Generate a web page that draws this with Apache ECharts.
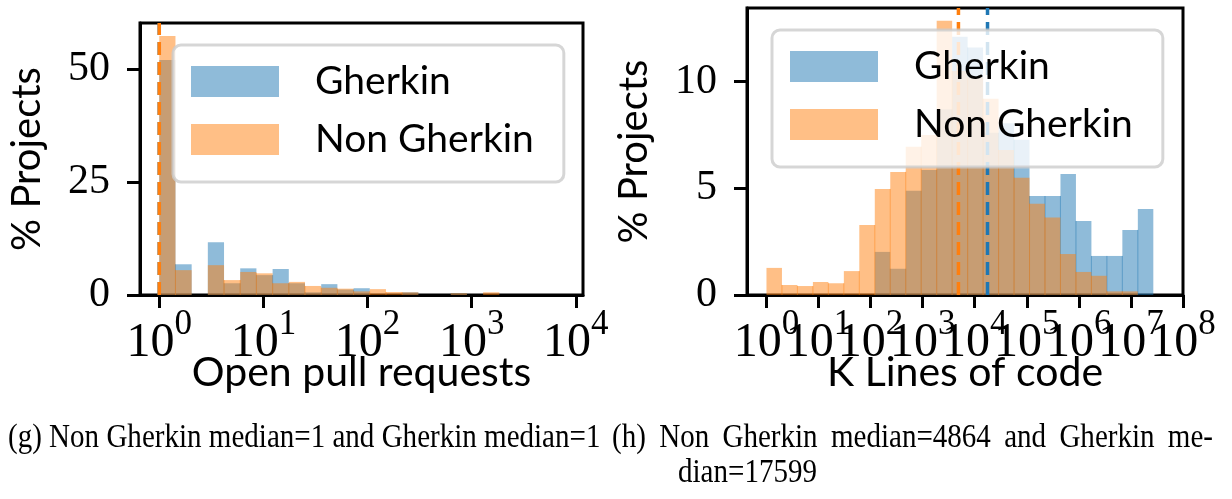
<!DOCTYPE html>
<html>
<head>
<meta charset="utf-8">
<title>Open pull requests / K Lines of code</title>
<script src="https://cdn.jsdelivr.net/npm/echarts@6.0.0/dist/echarts.min.js"></script>
<style>
  html, body { margin: 0; padding: 0; background: #ffffff; }
  #chart { width: 1232px; height: 499px; }
</style>
</head>
<body>
<div id="chart"></div>
<script>
// ---- data -------------------------------------------------------------
const seriesNames = ['Gherkin', 'Non Gherkin'];

// (g) Open pull requests: % of projects per log-spaced bin
const prBinRange = [1, 1842];
const prBinCount = 21;
const prGherkin    = [52.0, 6.8, 0, 11.7, 2.6, 5.9, 4.4, 5.75, 2.6, 0.6, 2.4, 1.2, 1.5, 0, 0, 0.6, 0, 0, 0.4, 0, 0];
const prNonGherkin = [57.3, 5.5, 0, 6.6, 3.3, 5.1, 4.8, 2.6, 2.9, 2.0, 1.6, 1.4, 0.8, 1.3, 0.66, 0.6, 0, 0, 0.4, 0, 0.6];
const prMedian = { gherkin: 1, nonGherkin: 1 };
const prXTicks = [0, 1, 2, 3, 4];          // decades
const prYTicks = [0, 25, 50];
const prXTitle = 'Open pull requests';

// (h) K Lines of code: % of projects per log-spaced bin
const locBinRange = [1, 26900000];
const locBinCount = 25;
const locGherkin    = [0, 0, 0, 0, 0, 0, 0, 2.02, 1.23, 4.88, 5.86, 8.7, 12.1, 11.6, 7.6, 8.05, 7.27, 4.64, 4.64, 5.67, 3.47, 1.83, 1.83, 3.05, 4.03];
const locNonGherkin = [1.27, 0.47, 0.42, 0.61, 0.55, 1.12, 3.28, 4.97, 5.77, 6.95, 7.5, 12.85, 10.5, 10.2, 9.2, 6.8, 5.5, 4.28, 3.63, 1.92, 1.08, 0.9, 0.17, 0.17, 0];
const locMedian = { gherkin: 17599, nonGherkin: 4864 };
const locXTicks = [0, 1, 2, 3, 4, 5, 6, 7, 8];
const locYTicks = [0, 5, 10];
const locXTitle = 'K Lines of code';

const yTitle = '% Projects';

// ---- helpers -----------------------------------------------------------
const LOG = Math.log10;
const BLUE = '#1f77b4', ORANGE = '#ff7f0e';
const BLUE_A = 'rgba(31,119,180,0.5)', ORANGE_A = 'rgba(255,127,14,0.5)';
const SERIF = '"Liberation Serif", "DejaVu Serif", serif';
const SANS = 'Lato, "Open Sans", "DejaVu Sans", sans-serif';

// log-spaced bin edges, like numpy.logspace
function logBins(range, count) {
  const a = LOG(range[0]), b = LOG(range[1]);
  const edges = [];
  for (let i = 0; i <= count; i++) edges.push(Math.pow(10, a + (b - a) * i / count));
  return edges;
}
function histData(range, count, heights) {
  const edges = logBins(range, count);
  return heights.map((h, i) => [edges[i], edges[i + 1], h, i > 0 ? heights[i - 1] : 0]);
}

function renderBin(params, api) {
  const h = api.value(2);
  if (!h) return null;
  const x0 = LOG(api.value(0)), x1 = LOG(api.value(1));
  const p0 = api.coord([x0, 0]);
  const p1 = api.coord([x1, h]);
  const color = api.visual('color');
  const children = [{
    type: 'rect',
    shape: { x: p0[0], y: p1[1], width: p1[0] - p0[0], height: p0[1] - p1[1] },
    style: { fill: color }
  }];
  // seam between neighbouring bins of the same series
  const prev = api.value(3);
  if (prev > 0) {
    const ps = api.coord([x0, Math.min(prev, h)]);
    children.push({
      type: 'line',
      shape: { x1: p0[0], y1: p0[1], x2: p0[0], y2: ps[1] },
      style: { stroke: color, lineWidth: 1 }
    });
  }
  return { type: 'group', children };
}

function renderMedian(params, api) {
  const cs = params.coordSys;
  const x = api.coord([api.value(0), 0])[0];
  return {
    type: 'line',
    shape: { x1: x, y1: cs.y + cs.height, x2: x, y2: cs.y },
    style: { stroke: api.visual('color'), lineWidth: 3.5, lineDash: [13, 7] }
  };
}

// "10^n" tick labels under the decade ticks
const tickRich = {
  b: { fontFamily: SERIF, fontSize: 48, lineHeight: 60, verticalAlign: 'bottom', fill: '#000' },
  s: { fontFamily: SERIF, fontSize: 35, lineHeight: 34, verticalAlign: 'top', fill: '#000' }
};
function renderDecadeLabel(params, api) {
  const v = api.value(0);
  const p = api.coord([v, 0]);
  return {
    type: 'text', x: p[0], y: p[1] + 12,
    style: { text: '{b|10}{s|' + v + '}', rich: tickRich, align: 'center', verticalAlign: 'top', fill: '#000' }
  };
}

function histSeries(name, idx, range, count, heights, color) {
  return {
    type: 'custom', name, xAxisIndex: idx, yAxisIndex: idx,
    renderItem: renderBin, encode: { x: [0, 1], y: 2 },
    itemStyle: { color }, z: 2,
    data: histData(range, count, heights)
  };
}
function medianSeries(name, idx, value, color) {
  return {
    type: 'custom', name, xAxisIndex: idx, yAxisIndex: idx,
    renderItem: renderMedian, encode: { x: 0 },
    itemStyle: { color }, z: 3, silent: true,
    data: [[LOG(value)]]
  };
}
function decadeLabelSeries(idx, ticks) {
  return {
    type: 'custom', name: 'decades', xAxisIndex: idx, yAxisIndex: idx,
    renderItem: renderDecadeLabel, encode: { x: 0 },
    z: 5, silent: true, clip: false,
    data: ticks.map(t => [t])
  };
}

function xAxis(idx, min, max, ticks) {
  return {
    type: 'value', gridIndex: idx, min, max,
    axisLine: { show: true, onZero: false, lineStyle: { color: '#000', width: 3 } },
    axisTick: { show: true, length: 13, lineStyle: { color: '#000', width: 3 }, customValues: ticks },
    axisLabel: { show: false },
    splitLine: { show: false }
  };
}
function yAxis(idx, max, ticks) {
  return {
    type: 'value', gridIndex: idx, min: 0, max,
    name: yTitle, nameLocation: 'middle', nameGap: 93, nameMoveOverlap: false,
    nameTextStyle: { fontFamily: SANS, fontSize: 40, color: '#000' },
    axisLine: { show: true, onZero: false, lineStyle: { color: '#000', width: 3 } },
    axisTick: { show: true, length: 13, lineStyle: { color: '#000', width: 3 }, customValues: ticks },
    axisLabel: { customValues: ticks, margin: 30, color: '#000', fontFamily: SERIF, fontSize: 42,
                 showMinLabel: true, showMaxLabel: true },
    splitLine: { show: false }
  };
}
function legend(left, top) {
  return {
    data: seriesNames, orient: 'vertical', left, top,
    icon: 'rect', itemWidth: 88, itemHeight: 31, itemGap: 19,
    padding: [17, 30, 23, 18],
    backgroundColor: 'rgba(255,255,255,0.8)',
    borderColor: 'rgba(204,204,204,0.8)', borderWidth: 3, borderRadius: 8,
    textStyle: { fontFamily: SANS, fontSize: 39, lineHeight: 31, color: '#000', padding: [0, 0, 0, 31] },
    selectedMode: false
  };
}
// x-axis titles, centred under each plot
function xTitle(text, cx) {
  return { type: 'text', x: cx, y: 373,
           style: { text, font: '41px ' + SANS, fill: '#000', align: 'center', verticalAlign: 'middle' } };
}

// ---- captions ------------------------------------------------------------
const capSize = 33, capSqueeze = 0.88;
const capFont = capSize + 'px "Liberation Serif"';
const measureCtx = document.createElement('canvas').getContext('2d');
measureCtx.font = capFont;
function capText(text, x, y) {
  return { type: 'text', x, y, scaleX: capSqueeze,
           style: { text, font: capFont, fill: '#000', verticalAlign: 'top' } };
}
function justifiedLine(words, x0, x1, y) {
  const widths = words.map(w => measureCtx.measureText(w).width * capSqueeze);
  const total = widths.reduce((a, b) => a + b, 0);
  const gap = (x1 - x0 - total) / (words.length - 1);
  let x = x0;
  return words.map((w, i) => {
    const el = capText(w, x, y);
    x += widths[i] + gap;
    return el;
  });
}
const capG = `(g) Non Gherkin median=${prMedian.nonGherkin} and Gherkin median=${prMedian.gherkin}`;
const capH = `(h) Non Gherkin median=${locMedian.nonGherkin} and Gherkin median=${locMedian.gherkin}`;
const capHSplit = capH.indexOf('median=' + locMedian.gherkin);
const capHLine1 = capH.slice(0, capHSplit) + 'me-';
const capHLine2 = capH.slice(capHSplit + 2);

// ---- chart ---------------------------------------------------------------
const grids = [
  { left: 140, top: 23, width: 443, height: 272 },
  { left: 747, top: 8, width: 436, height: 287 }
];
const chart = echarts.init(document.getElementById('chart'), null, { renderer: 'canvas' });
chart.setOption({
  animation: false,
  backgroundColor: '#ffffff',
  grid: grids.map(g => Object.assign({ show: true, borderColor: '#000', borderWidth: 3, backgroundColor: 'transparent' }, g)),
  xAxis: [
    xAxis(0, -0.185, 4.069, prXTicks),
    xAxis(1, -0.374, 8, locXTicks)
  ],
  yAxis: [
    yAxis(0, 60.2, prYTicks),
    yAxis(1, 13.45, locYTicks)
  ],
  legend: [legend(173, 45), legend(772, 30)],
  series: [
    histSeries('Gherkin', 0, prBinRange, prBinCount, prGherkin, BLUE_A),
    histSeries('Non Gherkin', 0, prBinRange, prBinCount, prNonGherkin, ORANGE_A),
    medianSeries('Gherkin median', 0, prMedian.gherkin, BLUE),
    medianSeries('Non Gherkin median', 0, prMedian.nonGherkin, ORANGE),
    decadeLabelSeries(0, prXTicks),
    histSeries('Gherkin', 1, locBinRange, locBinCount, locGherkin, BLUE_A),
    histSeries('Non Gherkin', 1, locBinRange, locBinCount, locNonGherkin, ORANGE_A),
    medianSeries('Non Gherkin median', 1, locMedian.nonGherkin, ORANGE),
    medianSeries('Gherkin median', 1, locMedian.gherkin, BLUE),
    decadeLabelSeries(1, locXTicks)
  ],
  graphic: [
    xTitle(prXTitle, grids[0].left + grids[0].width / 2),
    xTitle(locXTitle, grids[1].left + grids[1].width / 2),
    capText(capG, 8, 422),
    ...justifiedLine(capHLine1.split(' '), 612, 1213, 422),
    capText(capHLine2, 678, 457)
  ]
});
</script>
</body>
</html>
